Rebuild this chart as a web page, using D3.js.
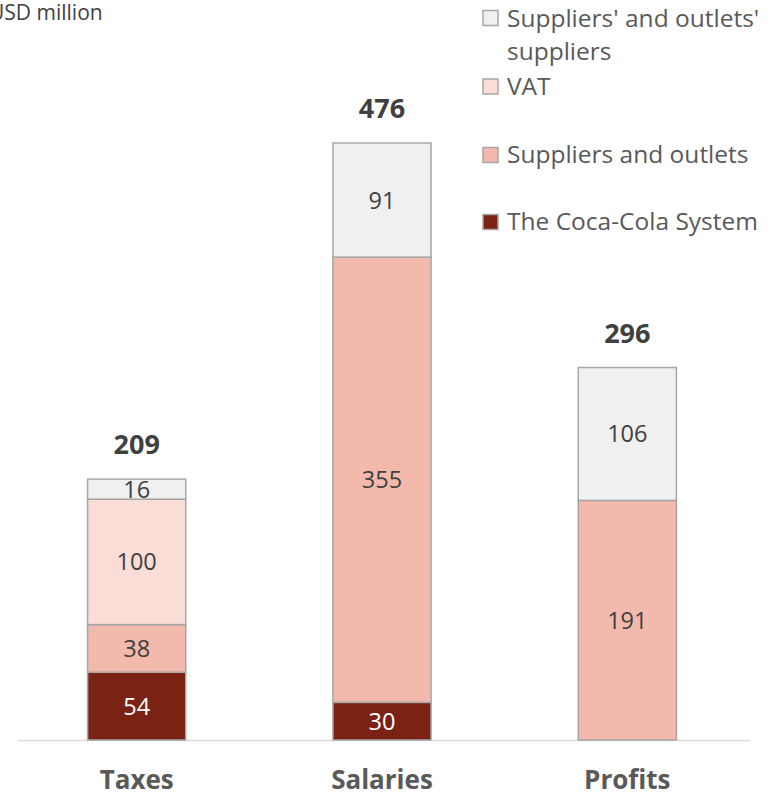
<!DOCTYPE html>
<html>
<head>
<meta charset="utf-8">
<script src="https://cdn.jsdelivr.net/npm/d3@7"></script>
<style>
  body { margin: 0; background: #fff; }
  svg { display: block; font-family: "Open Sans", "Noto Sans", sans-serif; }
</style>
</head>
<body>
<div id="chart"></div>
<script>
// Stacked bars: economic contribution by type
const categories = ["Taxes", "Salaries", "Profits"];
const seriesNames = ["The Coca-Cola System", "Suppliers and outlets", "VAT", "Suppliers' and outlets' suppliers"];
const cocaColaSystem = [54, 30, 0];
const suppliersOutlets = [38, 355, 191];
const vat = [100, 0, 0];
const suppliersSuppliers = [16, 91, 106];
const totals = [209, 476, 296];

const colors = ["#7a2314", "#f2b9ac", "#f9ddd6", "#f0f0f0"];
const labelColors = ["#ffffff", "#404040", "#404040", "#404040"];

const width = 772, height = 796;
const baseY = 740;

const svg = d3.select("#chart").append("svg")
    .attr("width", width)
    .attr("height", height);

// build rows for the stack
const table = categories.map((c, i) => ({
    category: c,
    s0: cocaColaSystem[i],
    s1: suppliersOutlets[i],
    s2: vat[i],
    s3: suppliersSuppliers[i]
}));
const keys = ["s0", "s1", "s2", "s3"];
const stacked = d3.stack().keys(keys)(table);

const x = d3.scaleBand()
    .domain(categories)
    .range([14, 750])
    .paddingInner(0.6)
    .paddingOuter(0.3);

const y = d3.scaleLinear()
    .domain([0, 476])
    .range([baseY, 143]);

// axis line
svg.append("line")
    .attr("x1", 18).attr("x2", 750)
    .attr("y1", baseY + 0.5).attr("y2", baseY + 0.5)
    .attr("stroke", "#d9d9d9")
    .attr("stroke-width", 1.5);

// segments
stacked.forEach((layer, k) => {
    const g = svg.append("g");
    layer.forEach((d, i) => {
        const v = d[1] - d[0];
        if (v <= 0) return;
        g.append("rect")
            .attr("x", x(categories[i]))
            .attr("y", y(d[1]))
            .attr("width", x.bandwidth())
            .attr("height", y(d[0]) - y(d[1]))
            .attr("fill", colors[k])
            .attr("stroke", "#a6a6a6")
            .attr("stroke-width", 1.5);
        g.append("text")
            .attr("x", x(categories[i]) + x.bandwidth() / 2)
            .attr("y", (y(d[0]) + y(d[1])) / 2)
            .attr("dy", "0.36em")
            .attr("text-anchor", "middle")
            .attr("font-size", 23.5)
            .attr("fill", labelColors[k])
            .text(v);
    });
});

// totals above bars
const topLayer = stacked[stacked.length - 1];
categories.forEach((c, i) => {
    svg.append("text")
        .attr("x", x(c) + x.bandwidth() / 2)
        .attr("y", y(topLayer[i][1]) - 25)
        .attr("text-anchor", "middle")
        .attr("font-size", 27)
        .attr("font-weight", "bold")
        .attr("fill", "#404040")
        .text(totals[i]);
});

// category labels
categories.forEach(c => {
    svg.append("text")
        .attr("x", x(c) + x.bandwidth() / 2)
        .attr("y", 789)
        .attr("text-anchor", "middle")
        .attr("font-size", 26)
        .attr("font-weight", "bold")
        .attr("fill", "#595959")
        .text(c);
});

// unit label
svg.append("text")
    .attr("x", -11)
    .attr("y", 20)
    .attr("font-size", 21)
    .attr("fill", "#404040")
    .text("USD million");

// legend, top to bottom
const legendItems = [
    { k: 3, lines: ["Suppliers' and outlets'", "suppliers"], sq: 18, base: 27 },
    { k: 2, lines: ["VAT"], sq: 86.5, base: 95 },
    { k: 1, lines: ["Suppliers and outlets"], sq: 155, base: 163 },
    { k: 0, lines: ["The Coca-Cola System"], sq: 222, base: 230 }
];
const legend = svg.append("g");
legendItems.forEach(item => {
    legend.append("rect")
        .attr("x", 483)
        .attr("y", item.sq - 7.5)
        .attr("width", 15)
        .attr("height", 15)
        .attr("fill", colors[item.k])
        .attr("stroke", "#a6a6a6")
        .attr("stroke-width", 1.5);
    item.lines.forEach((line, j) => {
        legend.append("text")
            .attr("x", 507)
            .attr("y", item.base + j * 33)
            .attr("font-size", 24.5)
            .attr("fill", "#595959")
            .text(line);
    });
});
</script>
</body>
</html>
